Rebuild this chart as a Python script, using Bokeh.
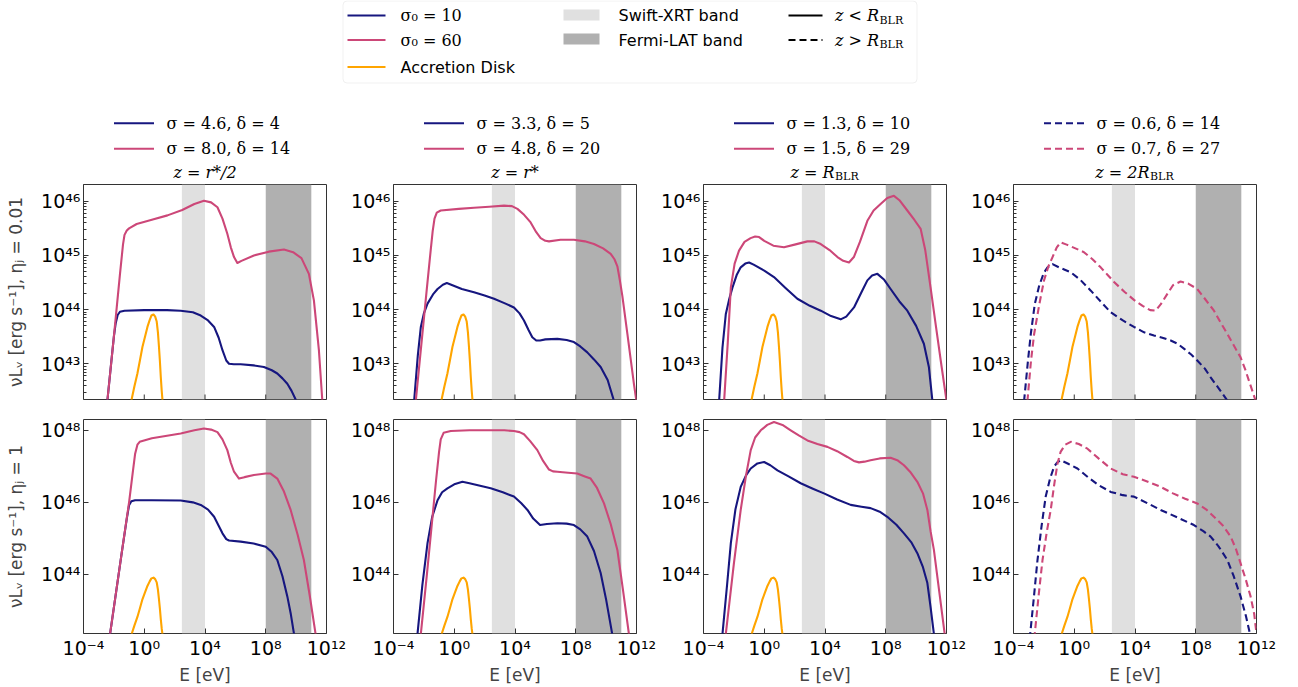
import numpy as np
from bokeh.plotting import figure
from bokeh.layouts import column, row
from bokeh.models import Range1d, FixedTicker, CustomJSTickFormatter, BoxAnnotation
from bokeh.embed import file_html
from bokeh.resources import INLINE
from bokeh.core.properties import value

# ---------------------------------------------------------------- data
# all values are log10(E / eV) and log10(nu L_nu / erg s^-1)
E_LIMITS = (1e-4, 1e12)
TOP_L_LIMITS = (10 ** 42.34, 10 ** 46.31)
BOT_L_LIMITS = (10 ** 42.36, 10 ** 48.30)
SWIFT_BAND = [300.0, 1e4]
FERMI_BAND = [1e8, 1e11]
x_ticks = [1e-4, 1e0, 1e4, 1e8, 1e12]
top_y_ticks = [1e43, 1e44, 1e45, 1e46]
bot_y_ticks = [1e44, 1e46, 1e48]

disk_logE = [-1.10, -0.84, -0.65, -0.45, -0.28, -0.12, 0.05, 0.21, 0.35, 0.47, 0.61, 0.72, 0.82, 0.90, 0.97, 1.03, 1.09, 1.15, 1.20, 1.28]
disk_logL = [41.90, 42.33, 42.58, 42.82, 43.07, 43.31, 43.50, 43.68, 43.80, 43.89, 43.91, 43.87, 43.78, 43.58, 43.31, 43.05, 42.75, 42.50, 42.33, 42.00]

# top row (eta_j = 0.01)
t0_blue_logE = [-2.60, -2.42, -2.20, -2.00, -1.88, -1.75, -1.60, -1.30, 0.00, 1.50, 2.40, 3.20, 3.72, 4.20, 4.60, 4.90, 5.15, 5.40, 5.58, 5.90, 6.35, 7.20, 7.88, 8.40, 8.76, 9.10, 9.42, 9.70, 9.97, 10.15]
t0_blue_logL = [41.85, 42.34, 42.95, 43.50, 43.75, 43.90, 43.96, 43.98, 43.99, 43.99, 43.98, 43.95, 43.89, 43.80, 43.68, 43.48, 43.25, 43.06, 43.00, 42.99, 42.99, 42.97, 42.94, 42.88, 42.82, 42.73, 42.63, 42.50, 42.34, 42.20]
t0_pink_logE = [-2.60, -2.42, -2.00, -1.60, -1.40, -1.30, -1.15, -1.00, -0.50, 0.50, 1.53, 2.50, 3.30, 3.93, 4.40, 4.82, 5.15, 5.47, 5.70, 5.91, 6.13, 6.40, 7.22, 8.20, 9.20, 9.80, 10.35, 10.84, 11.17, 11.50, 11.72, 11.82]
t0_pink_logL = [41.85, 42.34, 43.50, 44.65, 45.20, 45.38, 45.46, 45.50, 45.58, 45.66, 45.74, 45.84, 45.95, 46.01, 45.98, 45.89, 45.68, 45.40, 45.15, 44.97, 44.86, 44.90, 45.00, 45.07, 45.11, 45.06, 44.95, 44.66, 44.17, 43.25, 42.34, 41.90]

t1_blue_logE = [-2.75, -2.64, -2.40, -2.20, -2.00, -1.76, -1.40, -1.10, -0.75, -0.49, -0.20, 0.50, 1.30, 2.00, 2.62, 3.30, 3.93, 4.30, 4.59, 4.90, 5.14, 5.40, 5.65, 6.00, 6.79, 7.40, 7.88, 8.30, 8.76, 9.20, 9.64, 10.10, 10.51, 10.65]
t1_blue_logL = [41.90, 42.32, 43.15, 43.68, 43.93, 44.11, 44.28, 44.38, 44.46, 44.49, 44.46, 44.38, 44.32, 44.26, 44.20, 44.12, 44.04, 43.93, 43.80, 43.62, 43.49, 43.43, 43.43, 43.45, 43.46, 43.44, 43.40, 43.32, 43.21, 43.08, 42.94, 42.70, 42.32, 42.10]
t1_pink_logE = [-2.65, -2.53, -2.20, -1.80, -1.55, -1.42, -1.30, -1.15, -0.89, 0.30, 1.30, 2.30, 3.28, 3.80, 4.16, 4.60, 5.03, 5.40, 5.69, 6.00, 6.24, 7.00, 7.88, 8.60, 9.20, 9.80, 10.30, 10.55, 10.74, 10.90, 11.07, 11.40, 11.83, 12.05]
t1_pink_logL = [41.90, 42.32, 43.26, 44.40, 45.10, 45.45, 45.68, 45.79, 45.83, 45.86, 45.88, 45.90, 45.92, 45.91, 45.86, 45.75, 45.61, 45.43, 45.32, 45.27, 45.26, 45.29, 45.29, 45.26, 45.21, 45.13, 45.03, 44.93, 44.80, 44.55, 44.25, 43.55, 42.63, 42.20]

t2_blue_logE = [-3.08, -2.97, -2.75, -2.53, -2.30, -2.09, -1.80, -1.55, -1.25, -1.00, -0.70, 0.00, 0.64, 1.40, 2.18, 3.00, 3.72, 4.40, 5.03, 5.40, 5.91, 6.40, 6.79, 7.10, 7.45, 7.90, 8.32, 8.90, 9.42, 10.00, 10.51, 10.84, 11.07, 11.15]
t2_blue_logL = [41.90, 42.32, 43.30, 43.92, 44.20, 44.41, 44.65, 44.78, 44.85, 44.87, 44.83, 44.72, 44.60, 44.40, 44.20, 44.07, 43.98, 43.88, 43.82, 43.87, 44.04, 44.32, 44.54, 44.63, 44.66, 44.55, 44.38, 44.15, 43.98, 43.70, 43.37, 42.94, 42.32, 42.00]
t2_pink_logE = [-2.75, -2.64, -2.40, -2.20, -1.95, -1.66, -1.30, -0.90, -0.60, -0.34, 0.00, 0.60, 1.30, 2.00, 2.84, 3.30, 3.72, 4.30, 4.82, 5.20, 5.58, 5.90, 6.30, 6.79, 7.20, 7.66, 8.10, 8.54, 8.90, 9.42, 9.90, 10.30, 10.60, 10.95, 11.30, 11.65, 12.00]
t2_pink_logL = [41.90, 42.32, 43.40, 44.41, 44.85, 45.09, 45.25, 45.32, 45.35, 45.34, 45.27, 45.18, 45.15, 45.20, 45.26, 45.26, 45.21, 45.10, 44.97, 44.90, 44.87, 44.97, 45.25, 45.64, 45.83, 45.95, 46.06, 46.10, 46.02, 45.83, 45.65, 45.49, 45.10, 44.41, 43.70, 43.00, 42.32]

t3_blue_logE = [-3.40, -3.30, -3.05, -2.86, -2.60, -2.31, -2.00, -1.76, -1.43, -1.00, -0.23, 0.40, 1.09, 1.80, 2.40, 3.20, 3.93, 4.60, 5.25, 5.80, 6.35, 6.80, 7.22, 7.70, 8.10, 8.60, 8.98, 9.50, 10.08, 10.30]
t3_blue_logL = [41.90, 42.32, 43.05, 43.55, 44.10, 44.44, 44.68, 44.78, 44.84, 44.78, 44.69, 44.55, 44.35, 44.13, 43.95, 43.80, 43.68, 43.58, 43.52, 43.48, 43.43, 43.37, 43.28, 43.17, 43.06, 42.91, 42.75, 42.55, 42.32, 42.20]
t3_pink_logE = [-3.18, -3.08, -2.85, -2.64, -2.30, -1.99, -1.70, -1.43, -1.15, -0.89, -0.50, 0.00, 0.64, 1.20, 1.74, 2.20, 2.62, 3.30, 3.93, 4.50, 5.00, 5.36, 5.70, 6.13, 6.50, 7.00, 7.50, 8.10, 8.60, 9.20, 9.60, 10.08, 10.50, 10.95, 11.25, 11.50, 11.75, 11.94, 12.10]
t3_pink_logL = [41.90, 42.32, 43.05, 43.55, 44.10, 44.54, 44.80, 44.97, 45.15, 45.24, 45.20, 45.14, 45.06, 44.93, 44.78, 44.64, 44.51, 44.33, 44.18, 44.07, 43.99, 43.98, 44.10, 44.29, 44.45, 44.52, 44.48, 44.38, 44.20, 43.98, 43.78, 43.55, 43.34, 43.12, 42.90, 42.69, 42.48, 42.32, 42.10]

# bottom row (eta_j = 1)
b0_blue_logE = [-2.40, -2.25, -1.50, -1.15, -1.00, -0.85, -0.60, 0.50, 2.40, 3.20, 3.72, 4.20, 4.60, 4.90, 5.15, 5.40, 5.58, 6.35, 7.20, 8.00, 8.40, 8.76, 9.10, 9.42, 9.65, 9.86, 9.95]
b0_blue_logL = [41.90, 42.35, 44.55, 45.55, 45.92, 46.03, 46.06, 46.06, 46.05, 46.00, 45.93, 45.80, 45.60, 45.35, 45.14, 44.98, 44.94, 44.91, 44.86, 44.77, 44.62, 44.40, 43.95, 43.39, 42.90, 42.35, 42.00]
b0_pink_logE = [-2.40, -2.25, -1.50, -1.00, -0.75, -0.60, -0.45, -0.30, 0.50, 2.40, 3.30, 3.93, 4.40, 4.82, 5.15, 5.47, 5.70, 5.91, 6.24, 6.60, 7.22, 8.00, 8.32, 8.76, 9.20, 9.64, 10.10, 10.51, 10.90, 11.28, 11.40]
b0_pink_logL = [41.90, 42.35, 44.55, 46.00, 46.85, 47.35, 47.60, 47.68, 47.78, 47.91, 48.00, 48.05, 48.02, 47.95, 47.75, 47.45, 47.10, 46.85, 46.66, 46.70, 46.76, 46.80, 46.80, 46.66, 46.30, 45.79, 45.10, 44.40, 43.40, 42.35, 41.90]

b1_blue_logE = [-2.52, -2.42, -2.10, -1.76, -1.45, -1.10, -0.80, -0.45, 0.00, 0.54, 1.00, 1.70, 2.40, 3.20, 3.93, 4.40, 4.82, 5.20, 5.65, 6.10, 6.79, 7.40, 7.88, 8.30, 8.76, 9.20, 9.64, 10.00, 10.40, 10.50]
b1_blue_logL = [41.90, 42.35, 43.70, 44.87, 45.60, 46.06, 46.28, 46.39, 46.50, 46.57, 46.53, 46.46, 46.39, 46.28, 46.16, 45.98, 45.79, 45.55, 45.37, 45.40, 45.42, 45.41, 45.37, 45.25, 45.05, 44.65, 44.04, 43.30, 42.35, 42.00]
b1_pink_logE = [-2.32, -2.20, -1.80, -1.50, -1.20, -1.00, -0.89, -0.70, -0.23, 1.00, 2.40, 3.30, 3.93, 4.30, 4.59, 5.00, 5.47, 5.85, 6.24, 6.50, 6.79, 7.50, 8.10, 8.60, 8.98, 9.40, 9.86, 10.30, 10.74, 11.10, 11.50, 11.60]
b1_pink_logL = [41.90, 42.35, 44.00, 45.30, 46.60, 47.40, 47.75, 47.93, 47.98, 48.00, 48.00, 48.00, 47.98, 47.95, 47.89, 47.70, 47.45, 47.15, 46.91, 46.86, 46.85, 46.82, 46.80, 46.72, 46.66, 46.40, 45.97, 45.40, 44.68, 43.60, 42.35, 42.00]

b2_blue_logE = [-2.85, -2.75, -2.45, -2.20, -1.90, -1.55, -1.20, -0.89, -0.45, -0.01, 0.40, 0.87, 1.60, 2.40, 3.20, 3.93, 4.80, 5.69, 6.40, 7.00, 7.60, 8.10, 8.70, 9.20, 9.70, 10.08, 10.45, 10.74, 10.95, 11.17, 11.25]
b2_blue_logL = [41.90, 42.35, 43.70, 44.87, 45.80, 46.43, 46.75, 46.94, 47.08, 47.12, 47.03, 46.89, 46.72, 46.53, 46.38, 46.25, 46.08, 45.93, 45.88, 45.84, 45.74, 45.60, 45.38, 45.14, 44.88, 44.59, 44.20, 43.76, 43.10, 42.35, 42.00]
b2_pink_logE = [-2.65, -2.53, -2.00, -1.55, -1.20, -0.89, -0.60, -0.23, 0.20, 0.64, 1.20, 1.74, 2.30, 2.84, 3.50, 4.16, 4.80, 5.47, 5.90, 6.24, 6.60, 7.00, 7.60, 8.32, 8.80, 9.20, 9.60, 10.08, 10.45, 10.74, 10.95, 11.17, 11.50, 11.88, 11.95]
b2_pink_logL = [41.90, 42.35, 44.30, 45.79, 46.75, 47.45, 47.80, 48.00, 48.15, 48.23, 48.15, 48.00, 47.85, 47.72, 47.62, 47.54, 47.42, 47.26, 47.15, 47.11, 47.13, 47.17, 47.22, 47.24, 47.16, 47.03, 46.85, 46.57, 46.25, 45.79, 45.20, 44.68, 43.60, 42.35, 42.10]

b3_blue_logE = [-3.00, -2.90, -2.65, -2.42, -2.15, -1.88, -1.60, -1.33, -1.10, -0.89, -0.40, 0.21, 0.90, 1.60, 2.40, 3.20, 3.93, 4.80, 5.69, 6.80, 7.88, 8.50, 8.98, 9.50, 10.08, 10.50, 10.95, 11.30, 11.57, 11.65]
b3_blue_logL = [41.90, 42.35, 43.40, 44.40, 45.35, 46.16, 46.65, 46.99, 47.12, 47.17, 47.07, 46.94, 46.70, 46.48, 46.29, 46.20, 46.16, 45.98, 45.79, 45.58, 45.37, 45.20, 45.05, 44.78, 44.40, 43.95, 43.39, 42.85, 42.35, 42.00]
b3_pink_logE = [-2.70, -2.60, -2.35, -2.09, -1.80, -1.55, -1.30, -1.10, -0.90, -0.60, -0.23, 0.30, 0.87, 1.60, 2.40, 3.20, 3.93, 4.80, 5.69, 6.50, 7.30, 8.10, 8.70, 9.20, 9.80, 10.30, 10.65, 10.95, 11.30, 11.61, 11.85, 12.00]
b3_pink_logL = [41.90, 42.35, 43.40, 44.40, 45.20, 45.79, 46.55, 47.08, 47.40, 47.60, 47.68, 47.62, 47.49, 47.22, 46.94, 46.78, 46.71, 46.58, 46.43, 46.25, 46.10, 45.97, 45.80, 45.60, 45.35, 45.05, 44.70, 44.31, 43.85, 43.39, 42.90, 42.35]

blue_labels = ["σ = 4.6, δ = 4", "σ = 3.3, δ = 5", "σ = 1.3, δ = 10", "σ = 0.6, δ = 14"]
pink_labels = ["σ = 8.0, δ = 14", "σ = 4.8, δ = 20", "σ = 1.5, δ = 29", "σ = 0.7, δ = 27"]
title_main = ["z = r*/2", "z = r*", "z = R", "z = 2R"]
title_sub = ["", "", "BLR", "BLR"]
ylabels = ["νLᵥ [erg s⁻¹], ηⱼ = 0.01", "νLᵥ [erg s⁻¹], ηⱼ = 1"]
col_dashed = [False, False, False, True]

# ---------------------------------------------------------------- style
BLUE = "#16167f"
PINK = "#cc4778"
ORANGE = "#ffa500"
SWIFT_COLOR = "#e0e0e0"
FERMI_COLOR = "#b0b0b0"
DASH = "7 4"
LW = 2.1

fig_w = [347, 310, 310, 331]
border_l = [83, 46, 46, 46]
border_r = [21, 21, 21, 42]
frame_left = [83, 393, 703, 1013]
FRAME_W = 243
HEADER_H = 182

sup_code = """
const sup = {"-": "\u207b", "0": "\u2070", "1": "\u00b9", "2": "\u00b2", "3": "\u00b3",
             "4": "\u2074", "5": "\u2075", "6": "\u2076", "7": "\u2077", "8": "\u2078", "9": "\u2079"};
const e = Math.round(Math.log10(tick));
let s = "";
for (const ch of String(e)) { s += sup[ch]; }
return "10" + s;
"""

top_minor = [k * 10.0 ** n for n in range(42, 47) for k in range(2, 10)]


def style_axis(ax):
    ax.axis_line_color = None
    ax.major_tick_in = 5
    ax.major_tick_out = 0
    ax.minor_tick_in = 3
    ax.minor_tick_out = 0
    ax.major_tick_line_color = "#333333"
    ax.minor_tick_line_color = "#333333"
    ax.major_label_text_font = "DejaVu Sans"
    ax.major_label_text_font_size = "19px"
    ax.major_label_text_color = "black"
    ax.formatter = CustomJSTickFormatter(code=sup_code)


def make_panel(r, c, blueE, blueL, pinkE, pinkL):
    top = (r == 0)
    ylims = TOP_L_LIMITS if top else BOT_L_LIMITS
    p = figure(width=fig_w[c], height=227 if top else 278,
               x_axis_type="log", y_axis_type="log",
               x_range=Range1d(*E_LIMITS), y_range=Range1d(*ylims),
               output_backend="svg", toolbar_location=None, title=None,
               min_border_left=border_l[c], min_border_right=border_r[c],
               min_border_top=2 if top else 10, min_border_bottom=10 if top else 53)
    p.grid.visible = False
    p.outline_line_color = "#333333"
    p.outline_line_width = 1
    p.add_layout(BoxAnnotation(left=SWIFT_BAND[0], right=SWIFT_BAND[1], fill_color=SWIFT_COLOR,
                               fill_alpha=1.0, line_color=None, level="underlay"))
    p.add_layout(BoxAnnotation(left=FERMI_BAND[0], right=FERMI_BAND[1], fill_color=FERMI_COLOR,
                               fill_alpha=1.0, line_color=None, level="underlay"))

    style_axis(p.yaxis[0])
    p.yaxis.major_label_standoff = 3
    if top:
        p.yaxis.ticker = FixedTicker(ticks=top_y_ticks, minor_ticks=top_minor)
        # shared x axis: inward ticks only, no labels (half of each dash is clipped by the frame)
        p.xaxis.visible = False
        p.scatter(x=x_ticks, y=[ylims[0]] * len(x_ticks), marker="dash", angle=np.pi / 2,
                  size=10, line_color="#333333", line_width=1)
    else:
        p.yaxis.ticker = FixedTicker(ticks=bot_y_ticks, minor_ticks=[])
        style_axis(p.xaxis[0])
        p.xaxis.ticker = FixedTicker(ticks=x_ticks, minor_ticks=[])
        p.xaxis.major_label_standoff = 3
        p.xaxis.axis_label = "E [eV]"
        p.xaxis.axis_label_text_font = "DejaVu Sans"
        p.xaxis.axis_label_text_font_size = "17px"
        p.xaxis.axis_label_text_font_style = "normal"
        p.xaxis.axis_label_standoff = 3
    if c == 0:
        p.yaxis.axis_label = ylabels[r]
        p.yaxis.axis_label_text_font = "DejaVu Sans"
        p.yaxis.axis_label_text_font_size = "17px"
        p.yaxis.axis_label_text_font_style = "normal"
        p.yaxis.axis_label_standoff = 12

    dash = DASH if col_dashed[c] else "solid"
    p.line(10 ** np.array(disk_logE), 10 ** np.array(disk_logL), line_color=ORANGE,
           line_width=LW, line_join="round")
    p.line(10 ** np.array(blueE), 10 ** np.array(blueL), line_color=BLUE, line_width=LW,
           line_dash=dash, line_join="round")
    p.line(10 ** np.array(pinkE), 10 ** np.array(pinkL), line_color=PINK, line_width=LW,
           line_dash=dash, line_join="round")
    return p


top_data = [(t0_blue_logE, t0_blue_logL, t0_pink_logE, t0_pink_logL),
            (t1_blue_logE, t1_blue_logL, t1_pink_logE, t1_pink_logL),
            (t2_blue_logE, t2_blue_logL, t2_pink_logE, t2_pink_logL),
            (t3_blue_logE, t3_blue_logL, t3_pink_logE, t3_pink_logL)]
bot_data = [(b0_blue_logE, b0_blue_logL, b0_pink_logE, b0_pink_logL),
            (b1_blue_logE, b1_blue_logL, b1_pink_logE, b1_pink_logL),
            (b2_blue_logE, b2_blue_logL, b2_pink_logE, b2_pink_logL),
            (b3_blue_logE, b3_blue_logL, b3_pink_logE, b3_pink_logL)]

top_figs = [make_panel(0, c, *top_data[c]) for c in range(4)]
bot_figs = [make_panel(1, c, *bot_data[c]) for c in range(4)]

# ---------------------------------------------------------------- header (legends, titles)
h = figure(width=1298, height=HEADER_H, x_range=Range1d(0, 1298), y_range=Range1d(HEADER_H, 0),
           x_axis_type=None, y_axis_type=None, output_backend="svg", toolbar_location=None,
           title=None, min_border=0, outline_line_color=None)
h.grid.visible = False

h.add_layout(BoxAnnotation(left=342.5, right=916.5, top=0.5, bottom=82.5, fill_color="white",
                           fill_alpha=1.0, line_color="#cccccc", line_width=1, border_radius=4,
                           level="underlay"))
ry = [15.0, 39.5, 66.5]
serif = value("DejaVu Serif")
sans = value("DejaVu Sans")

h.segment(x0=[347] * 3, y0=ry, x1=[385] * 3, y1=ry, line_color=[BLUE, PINK, ORANGE], line_width=LW)
h.text(x=[400, 400], y=ry[:2], text=["σ₀ = 10", "σ₀ = 60"], text_font=serif,
       text_font_size="16px", text_baseline="middle", text_align="left", text_color="black")
h.text(x=[400], y=[ry[2]], text=["Accretion Disk"], text_font=sans,
       text_font_size="16px", text_baseline="middle", text_align="left", text_color="black")

h.quad(left=[563, 563], right=[599, 599], top=[9.0, 33.0], bottom=[20.0, 44.0],
       fill_color=[SWIFT_COLOR, FERMI_COLOR], line_color=None)
h.text(x=[618, 618], y=ry[:2], text=["Swift-XRT band", "Fermi-LAT band"], text_font=sans,
       text_font_size="16px", text_baseline="middle", text_align="left", text_color="black")

h.segment(x0=[788], y0=[ry[0]], x1=[822], y1=[ry[0]], line_color="black", line_width=LW)
h.segment(x0=[788], y0=[ry[1]], x1=[822], y1=[ry[1]], line_color="black", line_width=LW,
          line_dash=DASH)
h.text(x=[878.5, 878.5], y=ry[:2], text=["z < R", "z > R"], text_font=serif,
       text_font_style="italic", text_font_size="16px", text_baseline="middle",
       text_align="right", text_color="black")
h.text(x=[879, 879], y=[ry[0] + 4.5, ry[1] + 4.5], text=["BLR", "BLR"], text_font=serif,
       text_font_size="11px", text_baseline="middle", text_align="left", text_color="black")

leg_y = [122.7, 148.3]
title_y = 171.5
for c in range(4):
    cx = frame_left[c] + FRAME_W / 2.0
    dash = DASH if col_dashed[c] else "solid"
    h.segment(x0=[cx - 91, cx - 91], y0=leg_y, x1=[cx - 51, cx - 51], y1=leg_y,
              line_color=[BLUE, PINK], line_width=LW, line_dash=dash)
    h.text(x=[cx - 38.5, cx - 38.5], y=leg_y, text=[blue_labels[c], pink_labels[c]],
           text_font=serif, text_font_size="16px", text_baseline="middle",
           text_align="left", text_color="black")
    if title_sub[c]:
        split = cx + (9.5 if c == 2 else 14.5)
        h.text(x=[split], y=[title_y], text=[title_main[c]], text_font=serif,
               text_font_style="italic", text_font_size="16px", text_baseline="middle",
               text_align="right", text_color="black")
        h.text(x=[split + 0.5], y=[title_y + 4.0], text=[title_sub[c]], text_font=serif,
               text_font_size="11px", text_baseline="middle", text_align="left",
               text_color="black")
    else:
        h.text(x=[cx], y=[title_y], text=[title_main[c]], text_font=serif,
               text_font_style="italic", text_font_size="16px", text_baseline="middle",
               text_align="center", text_color="black")

layout = column(h, row(*top_figs), row(*bot_figs))
html = file_html(layout, INLINE, title="SED panels")
with open("out.html", "w", encoding="utf-8") as f:
    f.write(html)
